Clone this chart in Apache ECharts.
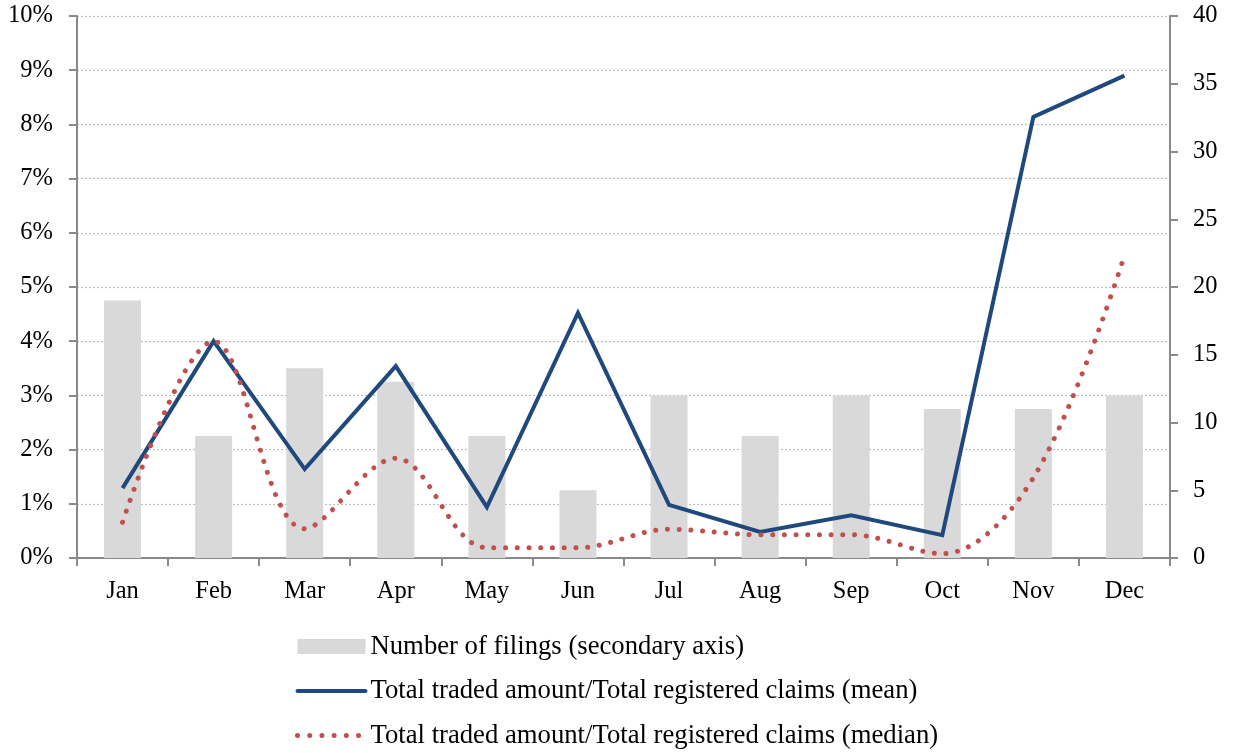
<!DOCTYPE html>
<html><head><meta charset="utf-8">
<script src="https://cdn.jsdelivr.net/npm/echarts@6/dist/echarts.min.js"></script>
<style>html,body{margin:0;padding:0;background:#fff}#c{width:1233px;height:753px}</style>
</head><body><div id="c"></div>
<script>
const months = ['Jan','Feb','Mar','Apr','May','Jun','Jul','Aug','Sep','Oct','Nov','Dec'];
const filings = [19, 9, 14, 13, 9, 5, 12, 9, 12, 11, 11, 12];
const meanRatio = [1.29, 4.0, 1.64, 3.54, 0.94, 4.52, 0.98, 0.48, 0.79, 0.42, 8.14, 8.9];
const medianRatio = [0.66, 4.0, 0.54, 1.84, 0.19, 0.19, 0.53, 0.43, 0.43, 0.08, 1.48, 5.58];
const leftTicks = {min: 0, max: 10, interval: 1};
const rightTicks = {min: 0, max: 40, interval: 5};
const names = ['Number of filings (secondary axis)', 'Total traded amount/Total registered claims (mean)', 'Total traded amount/Total registered claims (median)'];

const font = 'Liberation Serif';
const axisGray = '#898989';
const medianDash = [0.01, 11.7];
const chart = echarts.init(document.getElementById('c'), null, {renderer: 'canvas'});
chart.setOption({
  animation: false,
  textStyle: {fontFamily: font},
  grid: {left: 77, right: 63, top: 16, bottom: 195},
  legend: {
    orient: 'vertical', left: 290, top: 628, height: 200, itemGap: 17.5,
    itemWidth: 68, itemHeight: 15,
    textStyle: {fontFamily: font, fontSize: 26.7, color: '#000'},
    data: [
      {name: names[0], icon: 'rect', itemStyle: {color: '#d9d9d9'}},
      {name: names[1], itemStyle: {opacity: 0}, lineStyle: {width: 4, color: '#1f497d', type: 'solid', cap: 'round'}},
      {name: names[2], itemStyle: {opacity: 0}, lineStyle: {width: 5, color: '#c0504d', type: [0.01, 12.2], cap: 'round'}}
    ]
  },
  xAxis: {
    type: 'category', data: months, boundaryGap: true,
    axisLine: {lineStyle: {color: axisGray, width: 2}},
    axisTick: {show: true, length: 8, lineStyle: {color: axisGray, width: 2}},
    axisLabel: {fontFamily: font, fontSize: 24.5, color: '#000', margin: 21},
    splitLine: {show: false}
  },
  yAxis: [
    {
      type: 'value', min: leftTicks.min, max: leftTicks.max, interval: leftTicks.interval,
      axisLine: {show: true, lineStyle: {color: axisGray, width: 2}},
      axisTick: {show: true, length: 8, lineStyle: {color: axisGray, width: 2}},
      axisLabel: {fontFamily: font, fontSize: 24.5, color: '#000', margin: 24, formatter: v => v + '%'},
      splitLine: {show: true, lineStyle: {color: '#bdbdbd', width: 1.2, type: [2, 2]}}
    },
    {
      type: 'value', min: rightTicks.min, max: rightTicks.max, interval: rightTicks.interval,
      position: 'right',
      axisLine: {show: true, lineStyle: {color: axisGray, width: 2}},
      axisTick: {show: true, length: 8, lineStyle: {color: axisGray, width: 2}},
      axisLabel: {fontFamily: font, fontSize: 24.5, color: '#000', margin: 23},
      splitLine: {show: false}
    }
  ],
  series: [
    {
      name: names[0], type: 'bar', yAxisIndex: 1, data: filings,
      barWidth: 37, itemStyle: {color: '#d9d9d9'}, z: 1
    },
    {
      name: names[1], type: 'line', yAxisIndex: 0, data: meanRatio,
      symbol: 'none', lineStyle: {color: '#1f497d', width: 4, join: 'miter'},
      itemStyle: {color: '#1f497d'}, z: 3
    },
    {
      name: names[2], type: 'line', yAxisIndex: 0, data: medianRatio,
      symbol: 'none', smooth: 0.35,
      lineStyle: {color: '#c0504d', width: 5, type: medianDash, cap: 'round'},
      itemStyle: {color: '#c0504d'}, z: 4
    }
  ]
});
</script>
</body></html>
